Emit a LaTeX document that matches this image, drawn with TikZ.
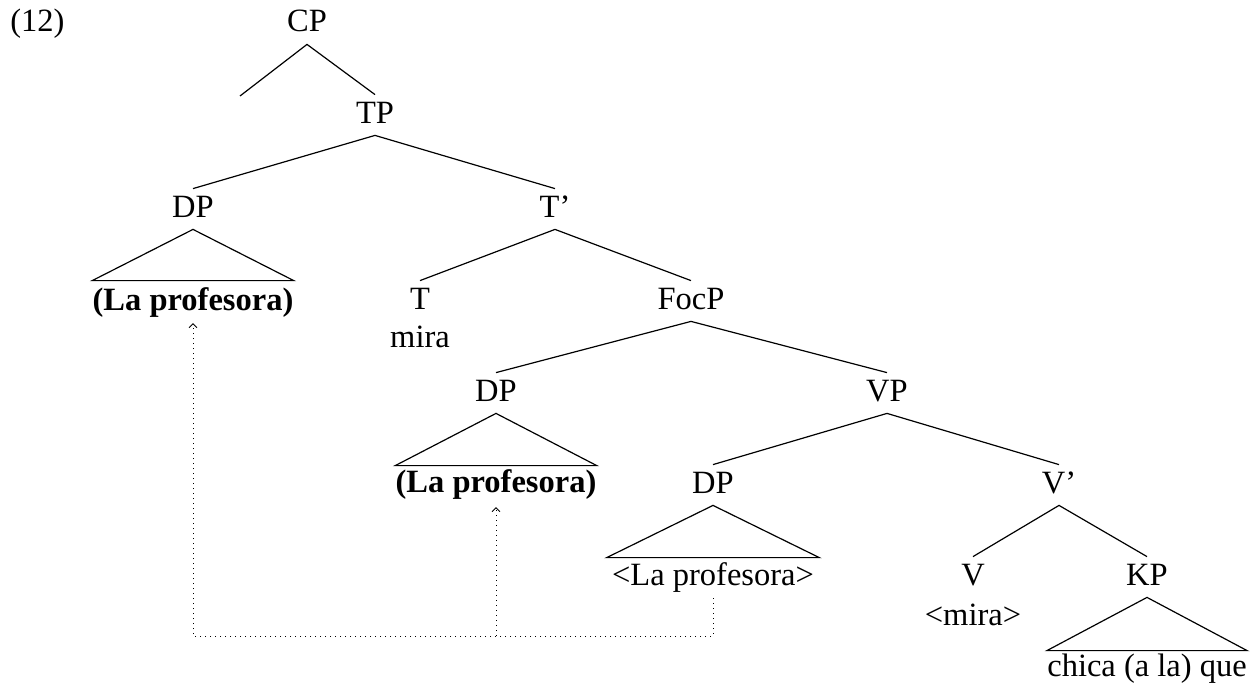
\documentclass[tikz,border=0pt]{standalone}
\usepackage{fontspec}
\setmainfont{Liberation Serif}
\usetikzlibrary{arrows.meta}
\begin{document}
\begin{tikzpicture}[x=0.5pt,y=-0.5pt,
  treefont/.style={font=\fontsize{16.25}{19}\selectfont},
  cat/.style={treefont,anchor=base,inner sep=0pt,text height=14pt,text depth=6pt},
  word/.style={treefont,anchor=base,inner sep=0pt},
  leaf/.style={treefont,anchor=base,inner ysep=0pt,inner xsep=0pt,text height=#1},
  branch/.style={line width=0.6pt},
  trace/.style={line width=0.5pt,dotted},
  tracetip/.style={-{Straight Barb[length=2pt,width=4pt,line width=0.5pt]}}]
\useasboundingbox (0,0) rectangle (1258,685);

% example number
\node[word,anchor=base west] (num) at (10,32) {(12)};

% category labels
\node[cat] (cp)   at (307,32)  {CP};
\node[cat] (tp)   at (375,123) {TP};
\node[cat] (dp1)  at (193,217) {DP};
\node[cat] (tbar) at (555,217) {T’};
\node[cat] (t)    at (420,309) {T};
\node[word] (tw)  at (420,347) {mira};
\node[cat] (focp) at (691,309) {FocP};
\node[cat] (dp2)  at (496,401) {DP};
\node[cat] (vp)   at (887,401) {VP};
\node[cat] (dp3)  at (713,493) {DP};
\node[cat] (vbar) at (1059,493) {V’};
\node[cat] (v)    at (973,585) {V};
\node[word] (vw)  at (973,625) {<mira>};
\node[cat] (kp)   at (1147,585) {KP};

% leaves under triangles
\node[leaf=14.5pt] (l1) at (193,310) {\bfseries (La profesora)};
\node[leaf=13pt]   (l2) at (496,492) {\bfseries (La profesora)};
\node[leaf=13.5pt,inner xsep=2.5pt] (l3) at (713,585) {<La profesora>};
\node[leaf=12.5pt] (l4) at (1147,676) {chica (a la) que};

% empty specifier of CP
\coordinate (spec) at (240,96);

% branches
\draw[branch] (spec) -- (cp.south) -- (tp.north);
\draw[branch] (dp1.north) -- (tp.south) -- (tbar.north);
\draw[branch] (t.north) -- (tbar.south) -- (focp.north);
\draw[branch] (dp2.north) -- (focp.south) -- (vp.north);
\draw[branch] (dp3.north) -- (vp.south) -- (vbar.north);
\draw[branch] (v.north) -- (vbar.south) -- (kp.north);

% triangles
\draw[branch] (dp1.south) -- (l1.north west) -- (l1.north east) -- cycle;
\draw[branch] (dp2.south) -- (l2.north west) -- (l2.north east) -- cycle;
\draw[branch] (dp3.south) -- (l3.north west) -- (l3.north east) -- cycle;
\draw[branch] (kp.south)  -- (l4.north west) -- (l4.north east) -- cycle;

% movement traces
\coordinate (src) at ([yshift=-6.5pt]l3.base);
\coordinate (a1)  at ([yshift=-6.5pt]l1.base);
\coordinate (a2)  at ([yshift=-7.5pt]l2.base);
\path (src) ++(0,38) coordinate (low);
\draw[trace,tracetip] (src) -- (low) -| (a1);
\draw[trace,tracetip] (a2 |- low) -- (a2);
\end{tikzpicture}
\end{document}
